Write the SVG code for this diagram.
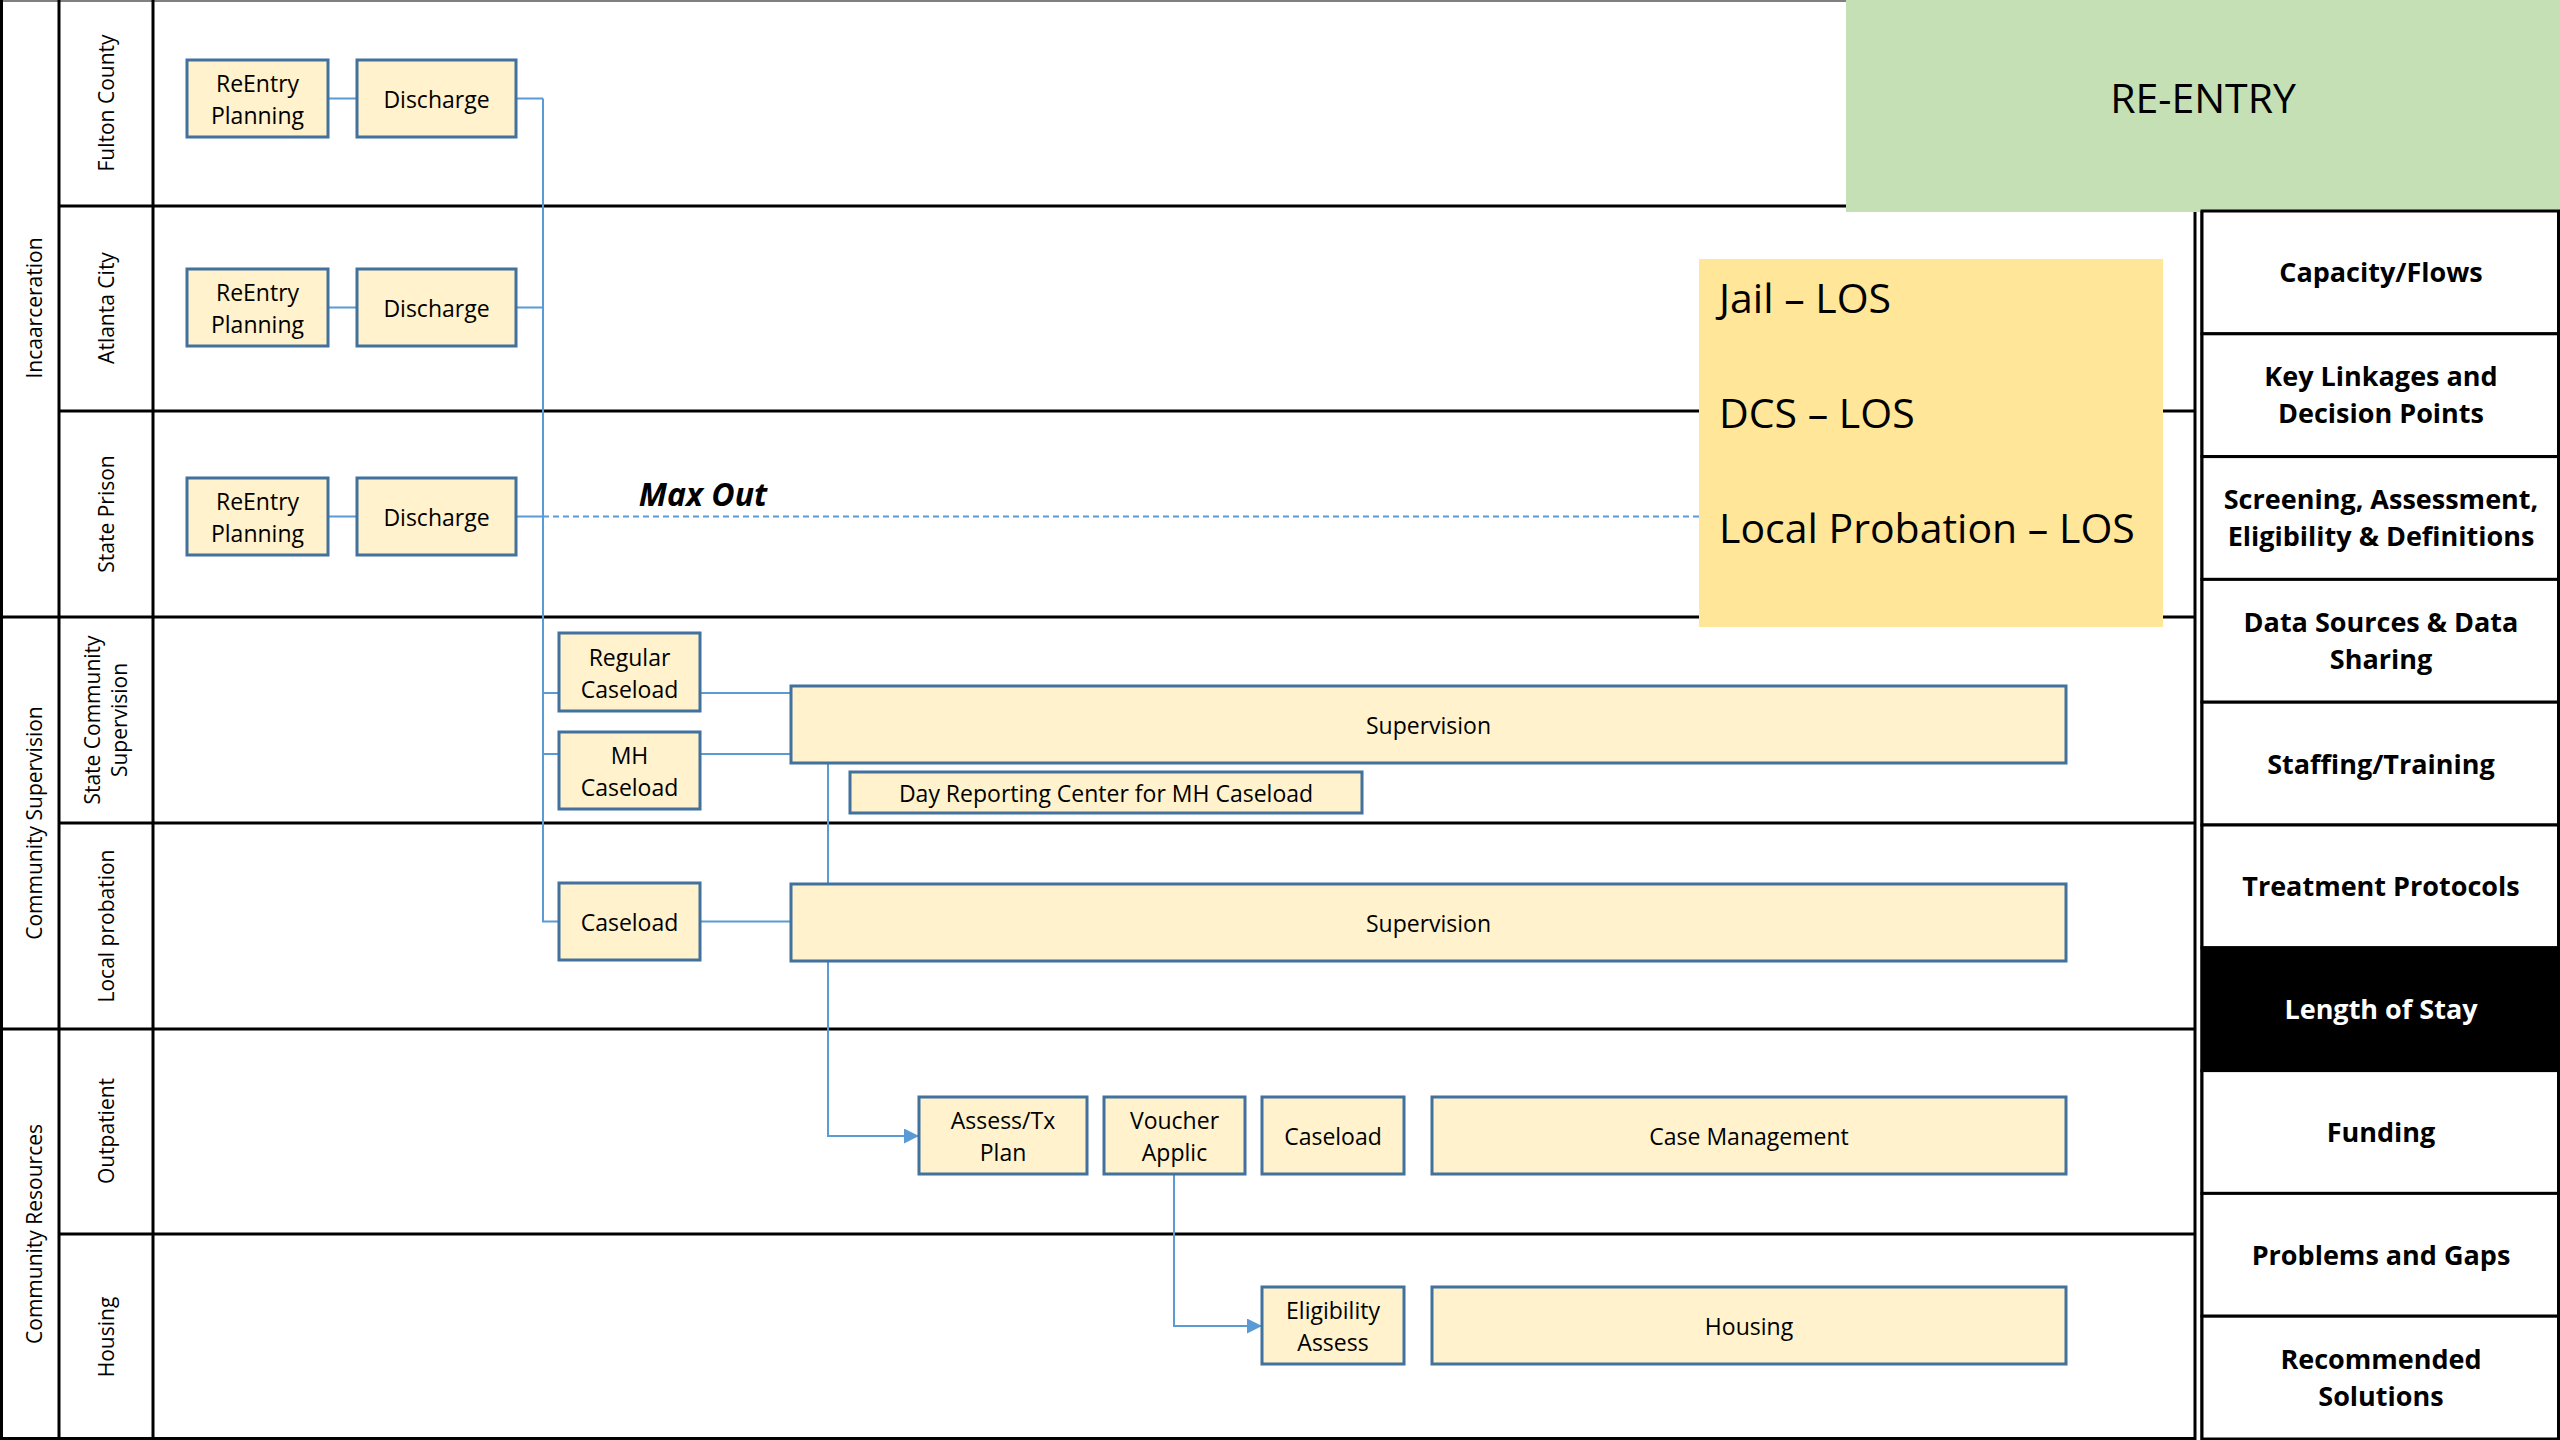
<svg xmlns="http://www.w3.org/2000/svg" width="2560" height="1440" viewBox="0 0 2560 1440">
<style>
text{font-family:"Open Sans","Liberation Sans",sans-serif;fill:#000}
.grid{stroke:#000;stroke-width:3;fill:none}
.box{fill:#FFF2CC;stroke:#41719C;stroke-width:3}
.bt{font-size:23px;text-anchor:middle}
.lane{font-size:21px;text-anchor:middle}
.cell{fill:#fff;stroke:#000;stroke-width:3}
.ct{font-size:27px;font-weight:bold;text-anchor:middle}
.con{fill:none;stroke:#5B9BD5;stroke-width:2}
.los{font-size:41px}
</style>
<defs>
<marker id="arr" viewBox="0 0 10 10" refX="10" refY="5" markerUnits="userSpaceOnUse" markerWidth="15" markerHeight="15" orient="auto">
<path d="M0,0 L10,5 L0,10 z" fill="#5B9BD5"/>
</marker>
</defs>
<rect x="0" y="0" width="2560" height="1440" fill="#fff"/>

<g id="grid">
<line x1="0" y1="1" x2="1846" y2="1" stroke="#808080" stroke-width="2"/>
<line class="grid" x1="1.5" y1="0" x2="1.5" y2="1440"/>
<line class="grid" x1="59" y1="0" x2="59" y2="1440"/>
<line class="grid" x1="153" y1="0" x2="153" y2="1440"/>
<line class="grid" x1="2195" y1="0" x2="2195" y2="1440"/>
<line class="grid" x1="59" y1="206" x2="2195" y2="206"/>
<line class="grid" x1="59" y1="411" x2="2195" y2="411"/>
<line class="grid" x1="0" y1="617" x2="2195" y2="617"/>
<line class="grid" x1="59" y1="823" x2="2195" y2="823"/>
<line class="grid" x1="0" y1="1029" x2="2195" y2="1029"/>
<line class="grid" x1="59" y1="1234" x2="2195" y2="1234"/>
<line class="grid" x1="0" y1="1438.5" x2="2195" y2="1438.5"/>
</g>

<g id="group-labels">
<text class="lane" font-size="21" transform="translate(42,308) rotate(-90)">Incaarceration</text>
<text class="lane" transform="translate(42,823) rotate(-90)">Community Supervision</text>
<text class="lane" transform="translate(42,1234) rotate(-90)">Community Resources</text>
</g>
<g id="lane-labels">
<text class="lane" transform="translate(114,103) rotate(-90)">Fulton County</text>
<text class="lane" transform="translate(114,308) rotate(-90)">Atlanta City</text>
<text class="lane" transform="translate(114,514) rotate(-90)">State Prison</text>
<text class="lane" transform="translate(100,720) rotate(-90)">State Community</text>
<text class="lane" transform="translate(127,720) rotate(-90)">Supervision</text>
<text class="lane" transform="translate(114,926) rotate(-90)">Local probation</text>
<text class="lane" transform="translate(114,1131) rotate(-90)">Outpatient</text>
<text class="lane" transform="translate(114,1337) rotate(-90)">Housing</text>
</g>

<g id="title">
<rect x="1846" y="0" width="714" height="212" fill="#C5E0B4"/>
<text x="2203" y="113" font-size="41" text-anchor="middle">RE-ENTRY</text>
</g>

<g id="connectors">
<path class="con" d="M328,98.5 H357 M516,98.5 H543"/>
<path class="con" d="M328,307.5 H357 M516,307.5 H543"/>
<path class="con" d="M328,516.5 H357 M516,516.5 H543"/>
<path class="con" d="M543,516.5 H1699" stroke-dasharray="6 4"/>
<path class="con" d="M543,98.5 V921.5 H791"/>
<path class="con" d="M543,693 H791"/>
<path class="con" d="M543,754 H791"/>
<path class="con" d="M828,763 V1136 H919" marker-end="url(#arr)"/>
<path class="con" d="M1174,1174 V1326 H1262" marker-end="url(#arr)"/>
</g>

<text x="703" y="506" font-size="32" font-weight="bold" font-style="italic" text-anchor="middle">Max Out</text>

<g id="fulton-reentry"><rect class="box" x="187" y="60" width="141" height="77"/><text class="bt" x="257.5" y="92">ReEntry</text><text class="bt" x="257.5" y="124">Planning</text></g>
<g id="fulton-discharge"><rect class="box" x="357" y="60" width="159" height="77"/><text class="bt" x="436.5" y="108">Discharge</text></g>
<g id="atlanta-reentry"><rect class="box" x="187" y="269" width="141" height="77"/><text class="bt" x="257.5" y="301">ReEntry</text><text class="bt" x="257.5" y="333">Planning</text></g>
<g id="atlanta-discharge"><rect class="box" x="357" y="269" width="159" height="77"/><text class="bt" x="436.5" y="317">Discharge</text></g>
<g id="state-reentry"><rect class="box" x="187" y="478" width="141" height="77"/><text class="bt" x="257.5" y="510">ReEntry</text><text class="bt" x="257.5" y="542">Planning</text></g>
<g id="state-discharge"><rect class="box" x="357" y="478" width="159" height="77"/><text class="bt" x="436.5" y="526">Discharge</text></g>

<g id="regular-caseload"><rect class="box" x="559" y="633" width="141" height="78"/><text class="bt" x="629.5" y="665.5">Regular</text><text class="bt" x="629.5" y="697.5">Caseload</text></g>
<g id="mh-caseload"><rect class="box" x="559" y="732" width="141" height="77"/><text class="bt" x="629.5" y="764">MH</text><text class="bt" x="629.5" y="796">Caseload</text></g>
<g id="state-supervision"><rect class="box" x="791" y="686" width="1275" height="77"/><text class="bt" x="1428.5" y="734">Supervision</text></g>
<g id="day-reporting"><rect class="box" x="850" y="772" width="512" height="41"/><text class="bt" x="1106" y="802">Day Reporting Center for MH Caseload</text></g>
<g id="local-caseload"><rect class="box" x="559" y="883" width="141" height="77"/><text class="bt" x="629.5" y="931">Caseload</text></g>
<g id="local-supervision"><rect class="box" x="791" y="884" width="1275" height="77"/><text class="bt" x="1428.5" y="932">Supervision</text></g>

<g id="assess-tx"><rect class="box" x="919" y="1097" width="168" height="77"/><text class="bt" x="1003" y="1129">Assess/Tx</text><text class="bt" x="1003" y="1161">Plan</text></g>
<g id="voucher"><rect class="box" x="1104" y="1097" width="141" height="77"/><text class="bt" x="1174.5" y="1129">Voucher</text><text class="bt" x="1174.5" y="1161">Applic</text></g>
<g id="op-caseload"><rect class="box" x="1262" y="1097" width="142" height="77"/><text class="bt" x="1333" y="1145">Caseload</text></g>
<g id="case-management"><rect class="box" x="1432" y="1097" width="634" height="77"/><text class="bt" x="1749" y="1145">Case Management</text></g>
<g id="eligibility"><rect class="box" x="1262" y="1287" width="142" height="77"/><text class="bt" x="1333" y="1319">Eligibility</text><text class="bt" x="1333" y="1351">Assess</text></g>
<g id="housing"><rect class="box" x="1432" y="1287" width="634" height="77"/><text class="bt" x="1749" y="1335">Housing</text></g>

<g id="los">
<rect x="1699" y="259" width="464" height="368" fill="#FFE699"/>
<text class="los" x="1719" y="313">Jail – LOS</text>
<text class="los" x="1719" y="428">DCS – LOS</text>
<text class="los" x="1719" y="543">Local Probation – LOS</text>
</g>

<g id="panel">
<line class="grid" x1="2202" y1="211" x2="2202" y2="1440"/>
<g id="p1"><rect class="cell" x="2202" y="211" width="356.5" height="122.8"/><text class="ct" x="2381" y="282">Capacity/Flows</text></g>
<g id="p2"><rect class="cell" x="2202" y="333.8" width="356.5" height="122.8"/><text class="ct" x="2381" y="386">Key Linkages and</text><text class="ct" x="2381" y="423">Decision Points</text></g>
<g id="p3"><rect class="cell" x="2202" y="456.6" width="356.5" height="122.8"/><text class="ct" x="2381" y="509">Screening, Assessment,</text><text class="ct" x="2381" y="546">Eligibility &amp; Definitions</text></g>
<g id="p4"><rect class="cell" x="2202" y="579.4" width="356.5" height="122.8"/><text class="ct" x="2381" y="632">Data Sources &amp; Data</text><text class="ct" x="2381" y="669">Sharing</text></g>
<g id="p5"><rect class="cell" x="2202" y="702.2" width="356.5" height="122.8"/><text class="ct" x="2381" y="773.6">Staffing/Training</text></g>
<g id="p6"><rect class="cell" x="2202" y="825" width="356.5" height="122.8"/><text class="ct" x="2381" y="896.4">Treatment Protocols</text></g>
<g id="p7"><rect class="cell" x="2202" y="947.8" width="356.5" height="122.8" fill="#000" style="fill:#000"/><text class="ct" x="2381" y="1019.2" style="fill:#fff">Length of Stay</text></g>
<g id="p8"><rect class="cell" x="2202" y="1070.6" width="356.5" height="122.8"/><text class="ct" x="2381" y="1142">Funding</text></g>
<g id="p9"><rect class="cell" x="2202" y="1193.4" width="356.5" height="122.8"/><text class="ct" x="2381" y="1264.8">Problems and Gaps</text></g>
<g id="p10"><rect class="cell" x="2202" y="1316.2" width="356.5" height="122.8"/><text class="ct" x="2381" y="1368.6">Recommended</text><text class="ct" x="2381" y="1405.6">Solutions</text></g>
</g>
</svg>
